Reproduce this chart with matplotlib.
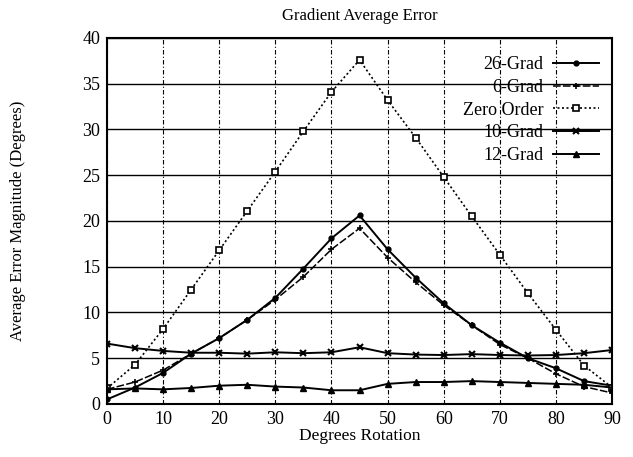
import matplotlib
matplotlib.use("Agg")
import matplotlib.pyplot as plt

plt.rcParams['font.family'] = ['Liberation Serif', 'DejaVu Serif']

# degrees of rotation
angles = [0, 5, 10, 15, 20, 25, 30, 35, 40, 45, 50, 55, 60, 65, 70, 75, 80, 85, 90]

grad26 = [0.5, 1.8, 3.4, 5.5, 7.2, 9.2, 11.6, 14.8, 18.1, 20.6, 16.9, 13.8, 11.0, 8.6, 6.7, 5.0, 3.9, 2.5, 2.0]
grad6 = [1.6, 2.4, 3.7, 5.5, 7.2, 9.2, 11.4, 13.9, 16.9, 19.2, 16.0, 13.3, 10.8, 8.6, 6.5, 5.0, 3.3, 1.9, 1.2]
zero_order = [1.7, 4.3, 8.2, 12.5, 16.8, 21.1, 25.4, 29.8, 34.1, 37.6, 33.2, 29.1, 24.8, 20.5, 16.3, 12.1, 8.1, 4.2, 1.8]
grad10 = [6.6, 6.1, 5.8, 5.6, 5.6, 5.5, 5.65, 5.55, 5.65, 6.2, 5.55, 5.4, 5.35, 5.45, 5.35, 5.3, 5.35, 5.55, 5.9]
grad12 = [1.6, 1.7, 1.6, 1.75, 2.0, 2.1, 1.9, 1.8, 1.5, 1.5, 2.2, 2.4, 2.4, 2.5, 2.4, 2.3, 2.2, 2.1, 1.8]

fig = plt.figure(figsize=(6.33, 4.57), dpi=100)
ax = fig.add_axes([0.169, 0.116, 0.798, 0.801])

ax.plot(angles, grad26, color='black', lw=1.4, marker='o', ms=3.5, label='26-Grad')
ax.plot(angles, grad6, color='black', lw=1.1, ls=(0, (5, 1.5)), marker='+', ms=5, mew=1.2, label='6-Grad')
ax.plot(angles, zero_order, color='black', lw=1.2, ls=(0, (1.2, 1.5)), marker='s', ms=4,
        mfc='white', mec='black', mew=1.2, label='Zero Order')
ax.plot(angles, grad10, color='black', lw=1.4, marker='x', ms=4.5, mew=1.5, label='10-Grad')
ax.plot(angles, grad12, color='black', lw=1.4, marker='^', ms=4, label='12-Grad')

ax.set_xlim(0, 90)
ax.set_ylim(0, 40)
ax.set_xticks(range(0, 91, 10))
ax.set_yticks(range(0, 41, 5))
ax.tick_params(direction='in', length=0, labelsize=13, pad=5)
ax.yaxis.grid(True, color='black', lw=1.0, ls='-')
ax.xaxis.grid(True, color='black', lw=0.8, ls=(0, (4, 2, 1, 2)))
for s in ax.spines.values():
    s.set_linewidth(1.5)

ax.set_title('Gradient Average Error', fontsize=12, pad=13)
ax.set_xlabel('Degrees Rotation', fontsize=12.5, labelpad=0)
ax.set_ylabel('Average Error Magnitude (Degrees)', fontsize=12, labelpad=40)

leg = ax.legend(loc='upper right', markerfirst=False, frameon=False, fontsize=13,
                handlelength=2.6, labelspacing=0.32, borderaxespad=0.3, handletextpad=0.5,
                bbox_to_anchor=(1.0, 0.985))

fig.savefig('out.png', dpi=100)
